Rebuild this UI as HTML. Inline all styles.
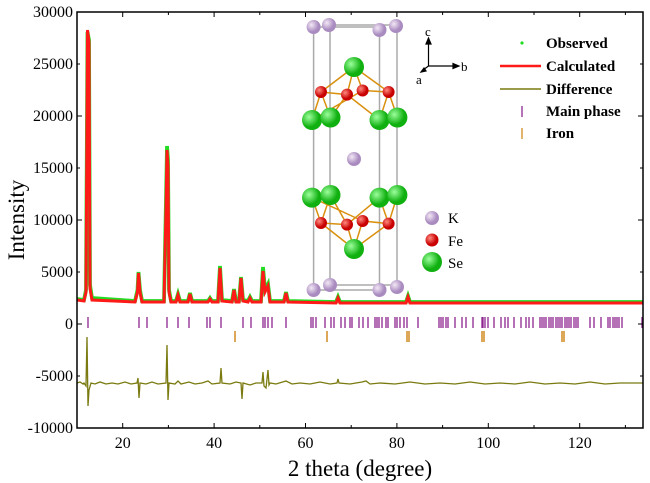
<!DOCTYPE html>
<html><head><meta charset="utf-8"><style>
html,body{margin:0;padding:0;background:#fff;}
svg{display:block;font-family:"Liberation Serif",serif;}
</style></head><body>
<svg width="650" height="483" viewBox="0 0 650 483" xmlns="http://www.w3.org/2000/svg">
<rect width="650" height="483" fill="#fff"/>
<path d="M77,299 L84,300 L86,290 L87.5,32 L89,40 L90,285 L92,298 L135,301 L137.5,290 L138.5,272 L140,290 L142,301 L164,301 L166,200 L167,146 L168,160 L169,290 L171,301 L176,301 L178,294 L180,301 L188,301 L190,293 L192,301 L208,301 L210,298 L212,301 L218,301 L220,266 L222,300 L232,301 L234,289 L236,301 L239,301 L241,277 L243,300 L248,301 L250,297 L252,301 L261,301 L263,267 L265,290 L268,284 L270,301 L284,301 L286,292 L288,301 L336,302 L338,297 L340,302 L406,302 L408,296 L410,302 L643,302" fill="none" stroke="#22dd22" stroke-width="3.8"/>
<path d="M77,300 L84,301 L86,292 L87.5,30 L89,42 L90,288 L92,300 L135,302 L137.5,292 L138.5,273 L140,292 L142,302 L164,302 L166,210 L167,150 L168,165 L169,292 L171,302 L176,302 L178,295 L180,302 L188,302 L190,294 L192,302 L208,302 L210,299 L212,302 L218,302 L220,268 L222,301 L232,302 L234,290 L236,302 L239,302 L241,278 L243,301 L248,302 L250,298 L252,302 L261,302 L263,271 L265,292 L268,286 L270,302 L284,302 L286,293 L288,302 L336,303 L338,298 L340,303 L406,303 L408,297 L410,303 L643,303" fill="none" stroke="#ff1a1a" stroke-width="3"/>
<path d="M77,383 L80,382 L83,384 L84,383 L86,386 L87,337 L88,406 L89,390 L91,383 L95,384 L100,382 L106,384 L112,383 L118,384 L125,382 L131,384 L137,383 L138,378 L139,398 L140,383 L146,384 L152,382 L158,384 L166,383 L167,345 L168,400 L169,383 L175,384 L178,381 L181,384 L189,382 L195,384 L202,383 L208,381 L212,384 L220,383 L221,368 L222,383 L230,384 L236,382 L241,383 L242,399 L243,383 L250,385 L256,383 L262,383 L263,372 L264,386 L266,388 L268,370 L269,385 L270,383 L276,384 L286,381 L292,384 L300,383 L310,384 L320,382 L330,384 L337,383 L338,379 L339,383 L350,384 L362,382 L366,381 L370,384 L380,383 L395,384 L410,382 L425,384 L440,383 L455,384 L470,382 L485,384 L500,383 L515,384 L530,382 L545,384 L560,383 L575,384 L590,382 L605,384 L620,383 L643,383" fill="none" stroke="#7a7a10" stroke-width="1.3"/>
<path stroke="#8e2590" stroke-width="1.3" fill="none" d="M88,317v11M139,317v11M147,317v11M167,317v11M178,317v11M189,317v11M207,317v11M210,317v11M221,317v11M243,317v11M251,317v11M263,317v11M265,317v11M268,317v11M272,317v11M286,317v11M311,317v11M313,317v11M316,317v11M325,317v11M331,317v11M334,317v11M341,317v11M345,317v11M350,317v11M352,317v11M359,317v11M363,317v11M368,317v11M375,317v11M377,317v11M379,317v11M382,317v11M386,317v11M388,317v11M395,317v11M397,317v11M400,317v11M404,317v11M407,317v11M418,317v11M439,317v11M441,317v11M443,317v11M446,317v11M448,317v11M455,317v11M462,317v11M466,317v11M473,317v11M482,317v11M483,317v11M485,317v11M488,317v11M494,317v11M501,317v11M505,317v11M508,317v11M514,317v11M521,317v11M526,317v11M529,317v11M533,317v11M540,317v11M542,317v11M544,317v11M546,317v11M549,317v11M551,317v11M553,317v11M556,317v11M558,317v11M560,317v11M562,317v11M565,317v11M567,317v11M569,317v11M571,317v11M574,317v11M576,317v11M578,317v11M590,317v11M594,317v11M601,317v11M608,317v11M610,317v11M613,317v11M615,317v11M617,317v11M619,317v11M622,317v11M642,317v11"/>
<path stroke="#d08a20" stroke-width="1.5" fill="none" d="M235,331v11M327,331v11M407,331v11M409,331v11M482,331v11M484,331v11M562,331v11M564,331v11"/>
<g stroke="#aaa" stroke-width="1.5" fill="none">
<path d="M313.6,27V290M397,26V287M330,25V285M379.5,30V290M313.6,27H379.5M330,25H397M313.6,290H379.5M330,285H397"/>
</g>
<g stroke="#d9900f" stroke-width="1.5" fill="none">
<path d="M354,67L321,92L312,120M354,67L388.6,92L397.4,117.5M321,92L347,94.6L379.5,120M321,92L330.5,117.5M362.6,90.5L388.6,92M362.6,90.5L312,120M347,94.6L354,67M362.6,90.5L354,67M388.6,92L379.5,120M347,94.6L330.5,117.5"/>
<path d="M354,249L321,223L312,197.6M354,249L388.6,223.6L397.4,195M321,223L347,224.6L379.5,197.6M321,223L330.5,195M362.6,221L388.6,223.6M362.6,221L312,197.6M347,224.6L354,249M362.6,221L354,249M388.6,223.6L379.5,197.6M347,224.6L330.5,195"/>
</g>
<defs>
<radialGradient id="gK" cx="35%" cy="35%"><stop offset="0" stop-color="#f3e8f5"/><stop offset="1" stop-color="#a98bc0"/></radialGradient>
<radialGradient id="gF" cx="35%" cy="35%"><stop offset="0" stop-color="#ff8a80"/><stop offset="1" stop-color="#c80000"/></radialGradient>
<radialGradient id="gS" cx="35%" cy="35%"><stop offset="0" stop-color="#9cff9c"/><stop offset="1" stop-color="#10b010"/></radialGradient>
</defs>
<g fill="url(#gK)">
<circle cx="313.6" cy="27" r="7"/><circle cx="329" cy="25" r="7"/><circle cx="379.5" cy="30" r="7"/><circle cx="396" cy="26" r="7"/>
<circle cx="313.6" cy="290" r="7"/><circle cx="330" cy="285" r="7"/><circle cx="379.5" cy="290" r="7"/><circle cx="397" cy="287" r="7"/>
<circle cx="354" cy="159" r="7"/><circle cx="432" cy="218" r="7"/>
</g>
<g fill="url(#gS)">
<circle cx="354" cy="67" r="10"/><circle cx="312" cy="120" r="10"/><circle cx="330.5" cy="117.5" r="10"/><circle cx="379.5" cy="120" r="10"/><circle cx="397.4" cy="117.5" r="10"/>
<circle cx="312" cy="197.6" r="10"/><circle cx="330.5" cy="195" r="10"/><circle cx="379.5" cy="197.6" r="10"/><circle cx="397.4" cy="195" r="10"/><circle cx="354" cy="249" r="10"/>
<circle cx="432" cy="262" r="10"/>
</g>
<g fill="url(#gF)">
<circle cx="321" cy="92" r="6"/><circle cx="347" cy="94.6" r="6"/><circle cx="362.6" cy="90.5" r="6"/><circle cx="388.6" cy="92" r="6"/>
<circle cx="321" cy="223" r="6"/><circle cx="347" cy="224.6" r="6"/><circle cx="362.6" cy="221" r="6"/><circle cx="388.6" cy="223.6" r="6"/>
<circle cx="432" cy="240" r="6.5"/>
</g>
<g font-size="15" fill="#000">
<text x="448" y="223">K</text><text x="448" y="246">Fe</text><text x="448" y="268">Se</text>
</g>
<g stroke="#000" stroke-width="1.2" fill="#000">
<path d="M428.5,66V42M428.5,66H455M428.5,66L423,70" fill="none"/>
<path d="M428.5,38l-2.5,6h5z M459,66l-6,-2.5v5z M421,72l5,-1l-2,-3z"/>
</g>
<g font-size="13" fill="#000"><text x="425" y="36">c</text><text x="461" y="71">b</text><text x="416" y="84">a</text></g>
<circle cx="522" cy="43" r="1.6" fill="#22dd22"/>
<line x1="500" y1="66" x2="541" y2="66" stroke="#ff1a1a" stroke-width="2.5"/>
<line x1="500" y1="89" x2="541" y2="89" stroke="#7a7a10" stroke-width="1.5"/>
<line x1="522" y1="106" x2="522" y2="117" stroke="#8e2590" stroke-width="1.3"/>
<line x1="522" y1="128" x2="522" y2="139" stroke="#d08a20" stroke-width="1.3"/>
<g font-size="15" font-weight="bold" fill="#000">
<text x="546" y="48">Observed</text><text x="546" y="71">Calculated</text><text x="546" y="94">Difference</text><text x="546" y="116">Main phase</text><text x="546" y="138">Iron</text>
</g>
<rect x="77" y="12" width="566" height="416" fill="none" stroke="#000" stroke-width="1.5"/>
<g stroke="#000" stroke-width="1">
<path d="M77,12h5M77,64h3M77,116h5M77,168h3M77,220h5M77,272h3M77,324h5M77,376h3"/>
<path d="M643,12h-5M643,64h-3M643,116h-5M643,168h-3M643,220h-5M643,272h-3M643,324h-5M643,376h-3"/>
<path d="M122.7,428v-5M168.4,428v-3M214.1,428v-5M259.8,428v-3M305.5,428v-5M351.2,428v-3M396.9,428v-5M442.6,428v-3M488.3,428v-5M534,428v-3M579.7,428v-5M625.4,428v-3"/>
<path d="M122.7,12v5M168.4,12v3M214.1,12v5M259.8,12v3M305.5,12v5M351.2,12v3M396.9,12v5M442.6,12v3M488.3,12v5M534,12v3M579.7,12v5M625.4,12v3"/>
</g>
<g font-size="16" fill="#000" text-anchor="end">
<text x="73" y="17">30000</text><text x="73" y="69">25000</text><text x="73" y="121">20000</text><text x="73" y="173">15000</text><text x="73" y="225">10000</text><text x="73" y="277">5000</text><text x="73" y="329">0</text><text x="73" y="381">-5000</text><text x="73" y="433">-10000</text>
</g>
<g font-size="16" fill="#000" text-anchor="middle">
<text x="122.7" y="448">20</text><text x="214.1" y="448">40</text><text x="305.5" y="448">60</text><text x="396.9" y="448">80</text><text x="488.3" y="448">100</text><text x="579.7" y="448">120</text>
</g>
<text x="360" y="476" font-size="23" text-anchor="middle" fill="#000">2 theta (degree)</text>
<text transform="translate(24,220) rotate(-90)" font-size="23" text-anchor="middle" fill="#000">Intensity</text>
</svg>
</body></html>
